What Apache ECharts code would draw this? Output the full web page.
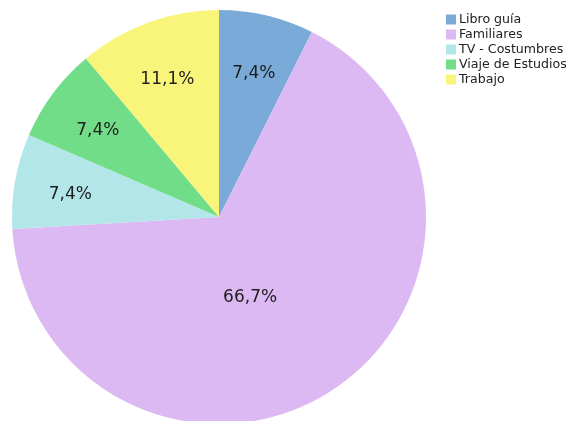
<!DOCTYPE html>
<html>
<head>
<meta charset="utf-8">
<script src="https://cdn.jsdelivr.net/npm/echarts@6/dist/echarts.min.js"></script>
<style>
  html, body { margin: 0; padding: 0; background: #fff; }
  #chart { width: 570px; height: 421px; }
</style>
</head>
<body>
<div id="chart"></div>
<script>
// categories and counts (7,4% = 2/27, 66,7% = 18/27, 11,1% = 3/27)
var categories = ["Libro guía", "Familiares", "TV - Costumbres", "Viaje de Estudios", "Trabajo"];
var values = [2, 18, 2, 2, 3];
var colors = ["#7aabd8", "#dcb9f3", "#b3e6e8", "#72dd88", "#f9f57b"];

var total = values.reduce(function (a, b) { return a + b; }, 0);
function pct(v) {
  return (v / total * 100).toFixed(1).replace(".", ",") + "%";
}

var chart = echarts.init(document.getElementById("chart"));

var mainData = categories.map(function (c, i) {
  return { name: c, value: values[i], itemStyle: { color: colors[i] } };
});

// big slice label sits nearer the centre than the small ones
var maxV = Math.max.apply(null, values);
function labelData(big) {
  return categories.map(function (c, i) {
    var isBig = values[i] === maxV;
    return { name: c, value: values[i], label: { show: big ? isBig : !isBig } };
  });
}

var labelStyle = {
  position: "inside",
  color: "#1e1e1e",
  fontSize: 17,
  fontFamily: "DejaVu Sans",
  formatter: function (p) { return pct(p.value); }
};

chart.setOption({
  animation: false,
  legend: {
    orient: "vertical",
    left: 441,
    top: 8,
    icon: "rect",
    itemWidth: 10,
    itemHeight: 10,
    itemGap: 2,
    data: categories,
    textStyle: { fontSize: 12.6, color: "#222", fontFamily: "DejaVu Sans", padding: [0, 0, 0, -2] }
  },
  series: [
    {
      type: "pie",
      center: [219, 217],
      radius: [0, 207],
      startAngle: 90,
      clockwise: true,
      label: { show: false },
      labelLine: { show: false },
      itemStyle: { borderWidth: 0 },
      data: mainData
    },
    {
      type: "pie",
      center: [219, 217],
      radius: [0, 296],
      startAngle: 90,
      silent: true,
      itemStyle: { color: "transparent" },
      label: Object.assign({}, labelStyle, { offset: [0, 4] }),
      labelLine: { show: false },
      data: labelData(false)
    },
    {
      type: "pie",
      center: [219, 217],
      radius: [0, 180],
      startAngle: 90,
      silent: true,
      itemStyle: { color: "transparent" },
      label: Object.assign({}, labelStyle, { offset: [-20, 3] }),
      labelLine: { show: false },
      data: labelData(true)
    }
  ]
});
</script>
</body>
</html>
